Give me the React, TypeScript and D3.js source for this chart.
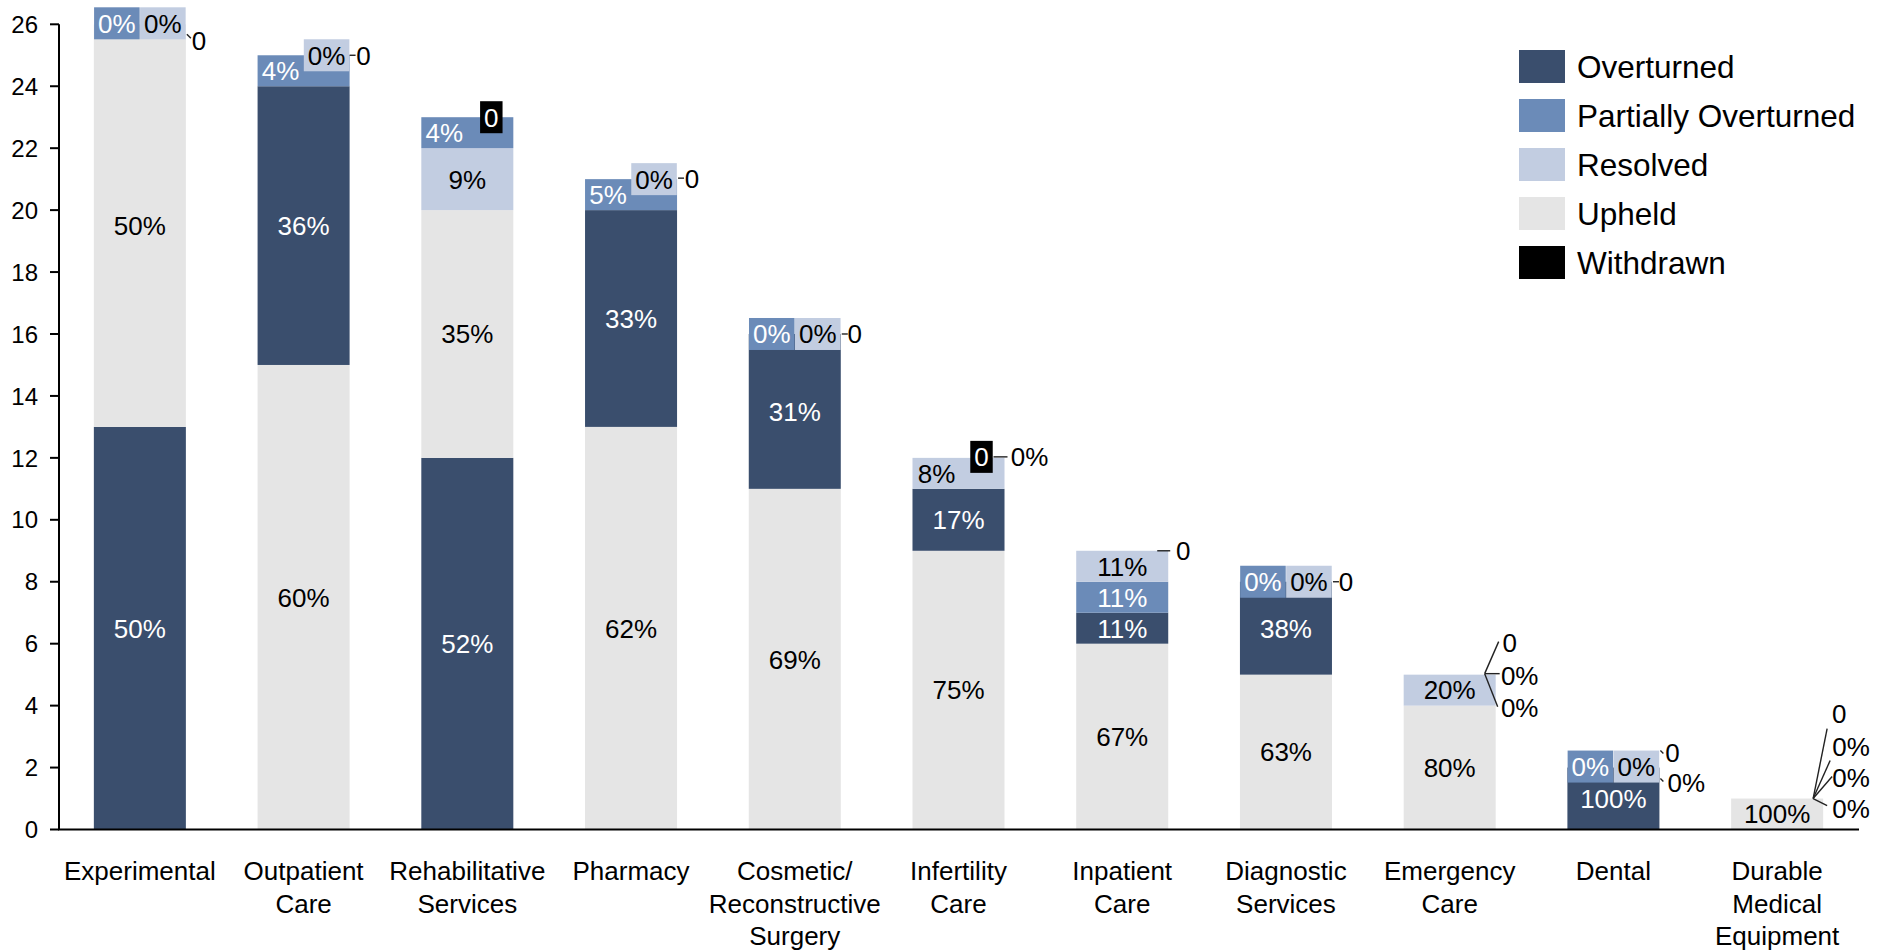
import React from "react";
import * as d3 from "d3";

const categories = [
  "Experimental",
  "Outpatient\nCare",
  "Rehabilitative\nServices",
  "Pharmacy",
  "Cosmetic/\nReconstructive\nSurgery",
  "Infertility\nCare",
  "Inpatient\nCare",
  "Diagnostic\nServices",
  "Emergency\nCare",
  "Dental",
  "Durable\nMedical\nEquipment",
];

const overturned = [13, 9, 12, 7, 5, 2, 1, 3, 0, 2, 0];
const partiallyOverturned = [0, 1, 1, 1, 0, 0, 1, 0, 0, 0, 0];
const resolved = [0, 0, 2, 0, 0, 1, 1, 0, 1, 0, 0];
const upheld = [13, 15, 8, 13, 11, 9, 6, 5, 4, 0, 1];
const withdrawn = [0, 0, 0, 0, 0, 0, 0, 0, 0, 0, 0];

const seriesNames = ["Overturned", "Partially Overturned", "Resolved", "Upheld", "Withdrawn"];
const seriesValues = [overturned, partiallyOverturned, resolved, upheld, withdrawn];
const yTicks = [0, 2, 4, 6, 8, 10, 12, 14, 16, 18, 20, 22, 24, 26];

// styles
const seriesColors = ["#3a4e6d", "#6b8bb8", "#c2cde1", "#e5e5e5", "#000000"];
const labelTextColors = ["#ffffff", "#ffffff", "#000000", "#000000", "#ffffff"];
const FONT = "'Liberation Sans', Arial, sans-serif";

// label placement tweaks (offsets in px from bar centre / segment anchor)
type LabelLayout = { dx: number; dy: number; box?: boolean; leader?: number[] };
const labelLayout: Record<string, LabelLayout> = {
  "0-1": { dx: -23, dy: -1, box: true },
  "0-2": { dx: 23, dy: -1, box: true },
  "0-4": { dx: 59, dy: 16, leader: [47, 10, 51, 14] },
  "1-1": { dx: -23, dy: 0 },
  "1-2": { dx: 23, dy: 0, box: true },
  "1-4": { dx: 60, dy: 0, leader: [46, 0, 52, 0] },
  "2-1": { dx: -23, dy: 0 },
  "2-4": { dx: 24, dy: 0, box: true },
  "3-1": { dx: -23, dy: 0 },
  "3-2": { dx: 23, dy: 0, box: true },
  "3-4": { dx: 61, dy: -1, leader: [47, -1, 53, -1] },
  "4-1": { dx: -23, dy: 0, box: true },
  "4-2": { dx: 23, dy: 0, box: true },
  "4-4": { dx: 60, dy: 0, leader: [47, 0, 53, 0] },
  "5-2": { dx: -22, dy: 0 },
  "5-4": { dx: 23, dy: -1, box: true },
  "5-1": { dx: 71, dy: -1, leader: [35, -1, 49, -1] },
  "6-4": { dx: 61, dy: 0, leader: [35, 0, 48, 0] },
  "7-1": { dx: -23, dy: 0, box: true },
  "7-2": { dx: 23, dy: 0, box: true },
  "7-4": { dx: 60, dy: 0, leader: [47, 0, 53, 0] },
  "8-4": { dx: 60, dy: -32, leader: [35, -1, 49, -33] },
  "8-0": { dx: 70, dy: 1, leader: [35, -1, 50, -1] },
  "8-1": { dx: 70, dy: 33, leader: [35, -1, 48, 32] },
  "9-1": { dx: -23, dy: -1, box: true },
  "9-2": { dx: 23, dy: -1, box: true },
  "9-4": { dx: 59, dy: -15, leader: [47, -17, 50, -14] },
  "9-3": { dx: 73, dy: 15, leader: [47, 11, 50, 14] },
  "10-4": { dx: 62, dy: -85, leader: [36, 0, 50, -70] },
  "10-2": { dx: 74, dy: -52, leader: [36, 0, 53, -38] },
  "10-1": { dx: 74, dy: -21, leader: [36, 0, 55, -22] },
  "10-0": { dx: 74, dy: 10, leader: [36, 0, 50, 7] },
};

const W = 1881;
const H = 950;

function textWidth(s: string, size: number) {
  let w = 0;
  for (const ch of s) w += ch === "%" ? 0.889 : 0.556;
  return w * size;
}

export default function App() {
  const x = d3
    .scaleBand<number>()
    .domain(d3.range(categories.length))
    .range([58, 1859])
    .paddingInner(0.438)
    .paddingOuter(0.219);
  const y = d3.scaleLinear().domain([0, 26]).range([829.5, 24.3]);
  const bw = x.bandwidth();

  const bars: any[] = [];
  const labels: any[] = [];

  categories.forEach((_, i) => {
    const vals = seriesValues.map((s) => s[i]);
    const total = d3.sum(vals);
    const order = d3.range(vals.length).sort((a, b) => vals[b] - vals[a] || a - b);
    let acc = 0;
    const cx = (x(i) as number) + bw / 2;
    order.forEach((s) => {
      const v = vals[s];
      const y0 = acc;
      const y1 = acc + v;
      acc = y1;
      if (v > 0) {
        bars.push(
          <rect
            key={`b${i}-${s}`}
            x={x(i)}
            y={y(y1)}
            width={bw}
            height={y(y0) - y(y1)}
            fill={seriesColors[s]}
          />
        );
      }
      const text = s === 4 ? String(v) : `${Math.round((v / total) * 100)}%`;
      const key = `${i}-${s}`;
      const lay = labelLayout[key];
      if (v === 0 && !lay) return;
      const anchorY = y((y0 + y1) / 2);
      const lx = cx + (lay ? lay.dx : 0);
      const ly = anchorY + (lay ? lay.dy : 0);
      const plain = v === 0 && lay && !lay.box;
      const tw = textWidth(text, 26);
      labels.push(
        <g key={`l${key}`}>
          {lay && lay.box && (
            <rect x={lx - tw / 2 - 4} y={ly - 16} width={tw + 8} height={32} fill={seriesColors[s]} />
          )}
          {lay && lay.leader && (
            <line
              x1={cx + lay.leader[0]}
              y1={y(total) + lay.leader[1]}
              x2={cx + lay.leader[2]}
              y2={y(total) + lay.leader[3]}
              stroke="#222"
              strokeWidth={1.4}
            />
          )}
          <text
            x={lx}
            y={ly}
            dy="0.36em"
            textAnchor="middle"
            fontSize={26}
            fill={plain ? "#000" : labelTextColors[s]}
          >
            {text}
          </text>
        </g>
      );
    });
  });

  return (
    <svg
      width={W}
      height={H}
      style={{ position: "absolute", left: 0, top: 0, background: "#fff" }}
      fontFamily={FONT}
    >
      <g>{bars}</g>
      {/* axes */}
      <line x1={59} x2={59} y1={y(26)} y2={y(0)} stroke="#000" strokeWidth={2} />
      <line x1={58} x2={1859} y1={y(0)} y2={y(0)} stroke="#000" strokeWidth={2} />
      {yTicks.map((t) => (
        <g key={`t${t}`}>
          <line x1={50} x2={59} y1={y(t)} y2={y(t)} stroke="#000" strokeWidth={2} />
          <text x={38} y={y(t)} dy="0.36em" textAnchor="end" fontSize={24} fill="#000">
            {t}
          </text>
        </g>
      ))}
      {categories.map((c, i) => (
        <text key={`c${i}`} x={(x(i) as number) + bw / 2} y={880} textAnchor="middle" fontSize={26} fill="#000">
          {c.split("\n").map((ln, k) => (
            <tspan key={k} x={(x(i) as number) + bw / 2} y={880 + k * 32.5}>
              {ln}
            </tspan>
          ))}
        </text>
      ))}
      <g>{labels}</g>
      {/* legend */}
      {seriesNames.map((n, k) => (
        <g key={`lg${k}`} transform={`translate(1519, ${50 + k * 49})`}>
          <rect x={0} y={0} width={46} height={33} fill={seriesColors[k]} />
          <text x={58} y={16.5} dy="0.36em" fontSize={31.5} fill="#000">
            {n}
          </text>
        </g>
      ))}
    </svg>
  );
}
